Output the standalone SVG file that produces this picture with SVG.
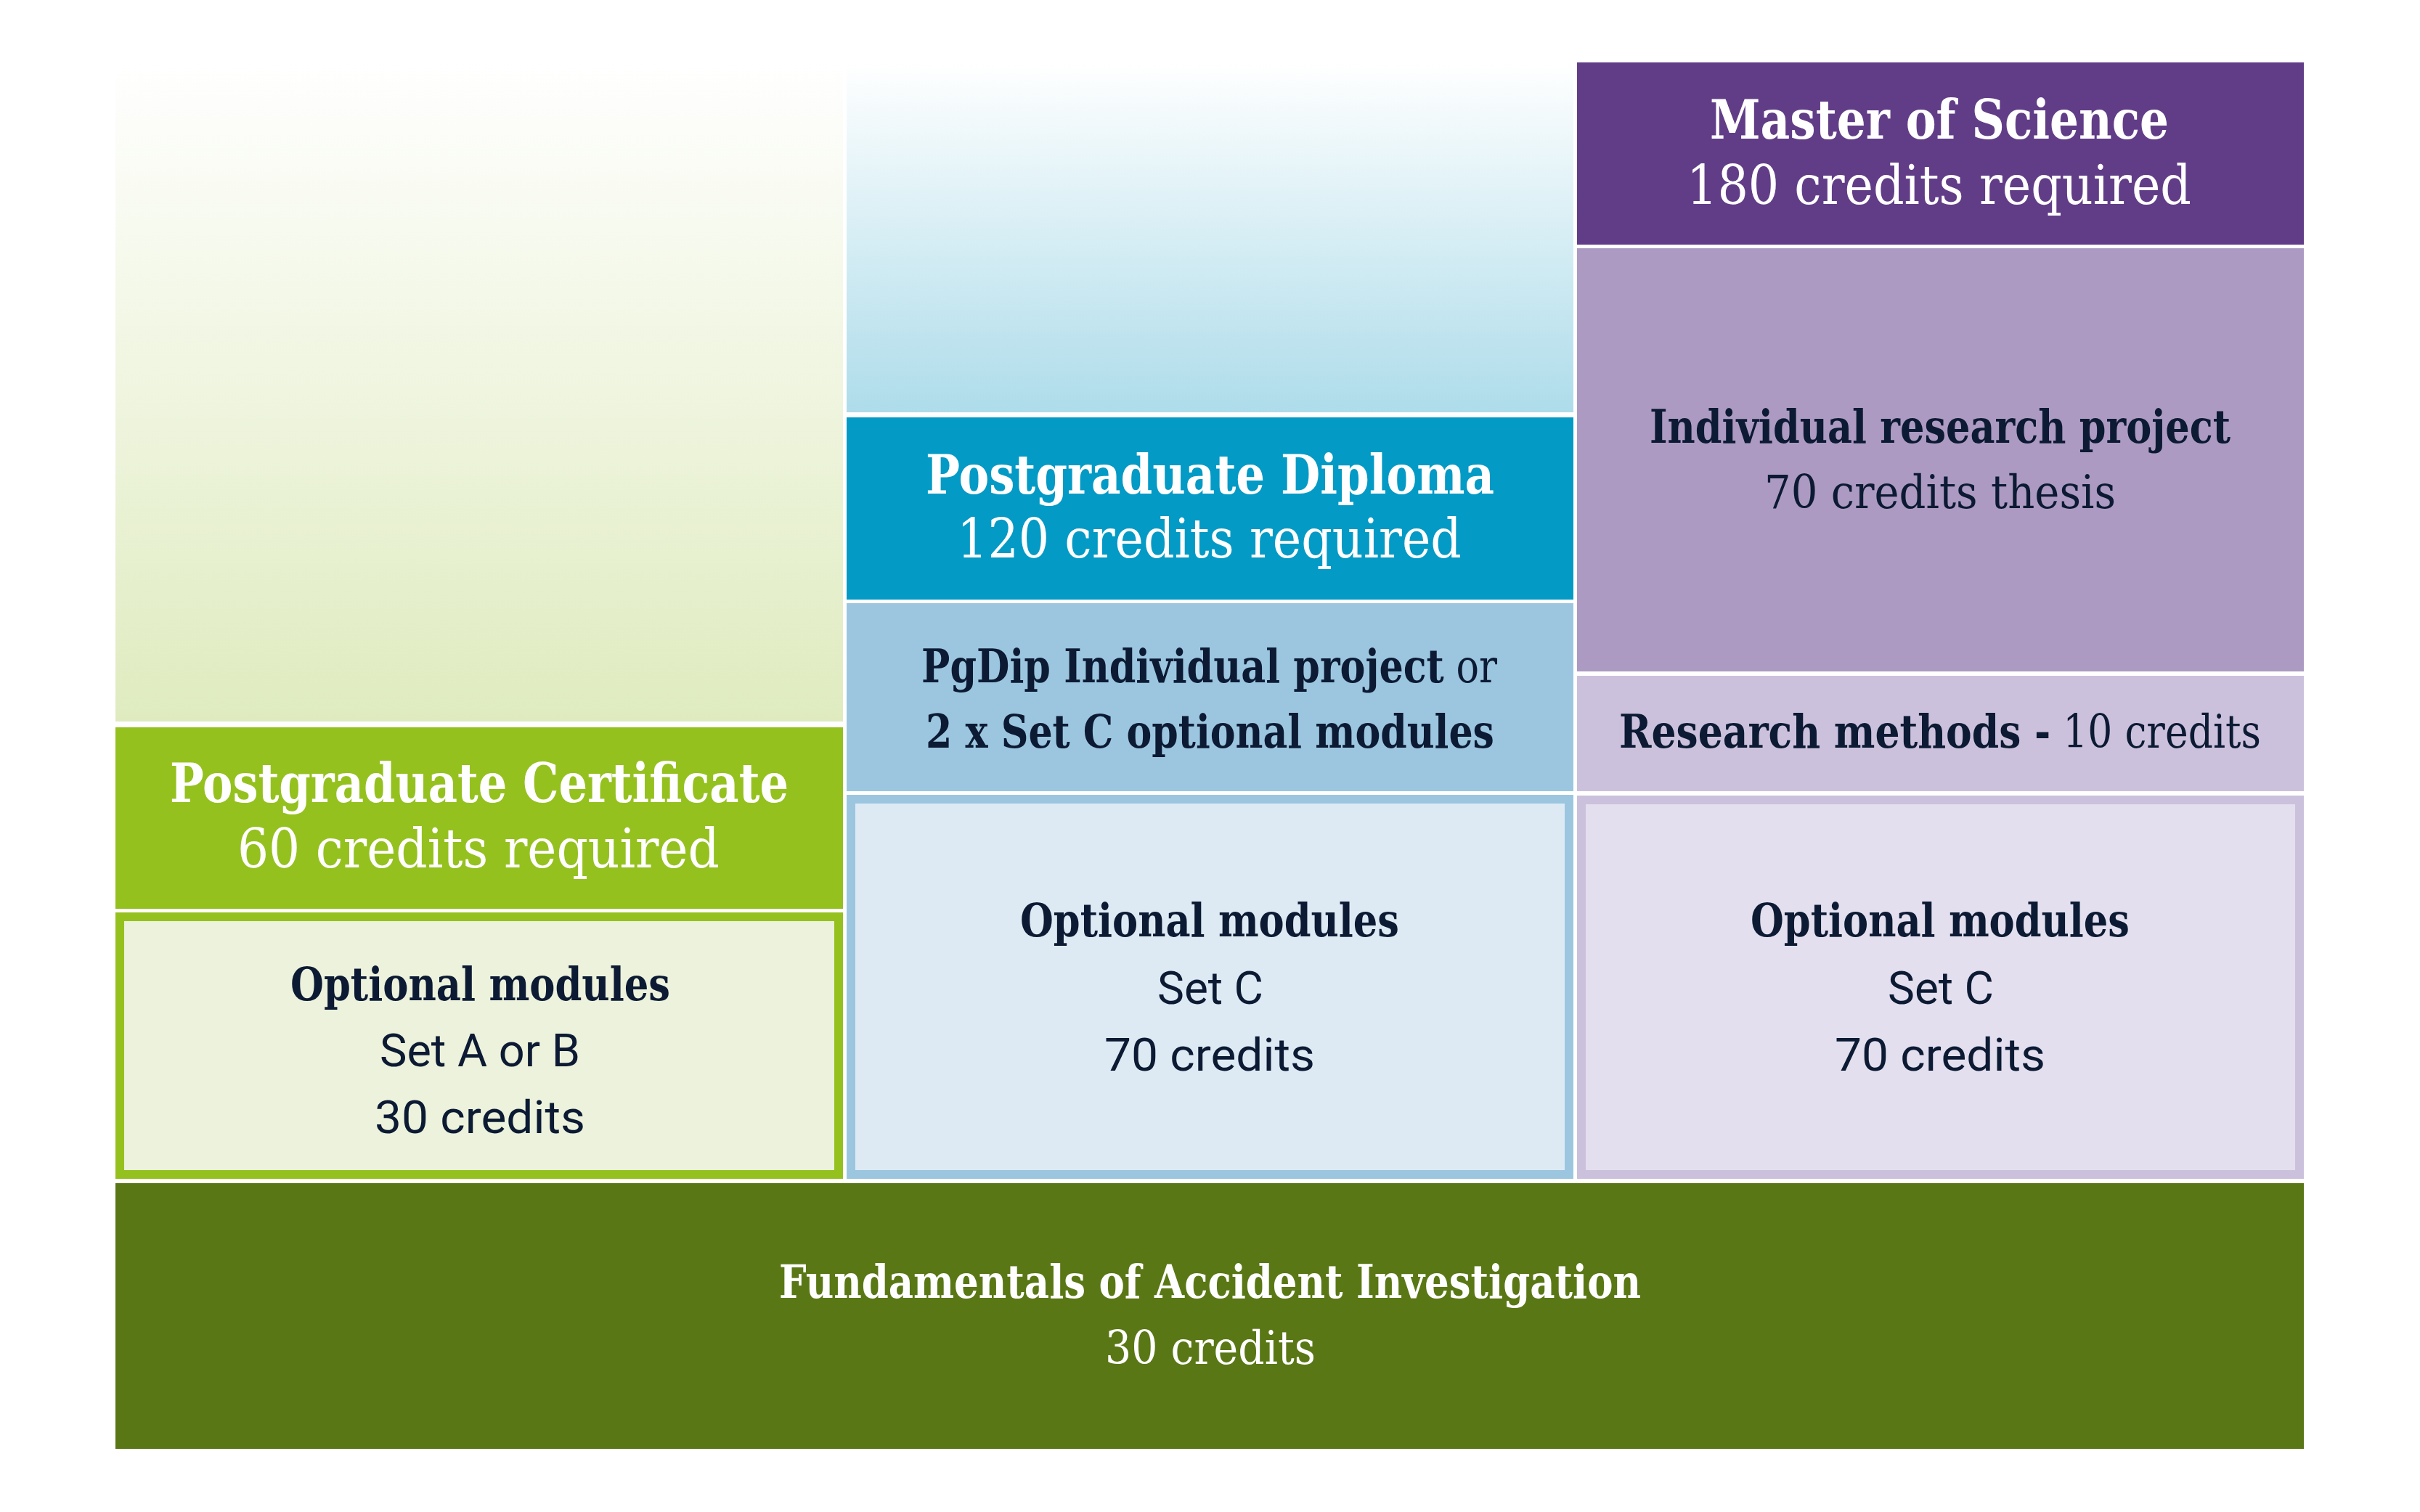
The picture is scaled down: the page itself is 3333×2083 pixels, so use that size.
<svg xmlns="http://www.w3.org/2000/svg" width="3333" height="2083" viewBox="0 0 3333 2083">
<defs>
<linearGradient id="gGreen" x1="0" y1="0" x2="0" y2="1">
<stop offset="0" stop-color="#ffffff"/>
<stop offset="1" stop-color="#dfebbf"/>
</linearGradient>
<linearGradient id="gBlue" x1="0" y1="0" x2="0" y2="1">
<stop offset="0" stop-color="#ffffff"/>
<stop offset="1" stop-color="#aedcea"/>
</linearGradient>
</defs>
<style>
.slab{font-family:"DejaVu Serif","Liberation Serif",serif;}
.sans{font-family:Roboto,"Liberation Sans",sans-serif;font-weight:400;}
.b{font-weight:700;}
.l{font-weight:400;}
.w{fill:#ffffff;}
.d{fill:#0c1a33;}
.hd{font-size:74px;}
.bd{font-size:63px;}
</style>
<rect x="0" y="0" width="3333" height="2083" fill="#ffffff"/>

<g id="pgcert-gradient">
<rect x="159" y="86" width="1002" height="908" fill="url(#gGreen)"/>
</g>
<g id="pgdip-gradient">
<rect x="1166" y="86" width="1001" height="482" fill="url(#gBlue)"/>
</g>

<g id="msc-header">
<rect x="2172" y="86" width="1001" height="251" fill="#623d87"/>
<text class="slab b w hd" x="2355" y="191" textLength="632" lengthAdjust="spacingAndGlyphs">Master of Science</text>
<text class="slab l w hd" x="2323" y="281" textLength="695" lengthAdjust="spacingAndGlyphs">180 credits required</text>
</g>

<g id="msc-project">
<rect x="2172" y="342" width="1001" height="583" fill="#ac9ac2"/>
<text class="slab b d bd" x="2272" y="610" textLength="800" lengthAdjust="spacingAndGlyphs">Individual research project</text>
<text class="slab l d bd" x="2430" y="700" textLength="484" lengthAdjust="spacingAndGlyphs">70 credits thesis</text>
</g>

<g id="msc-methods">
<rect x="2172" y="931" width="1001" height="159" fill="#ccc1dc"/>
<text class="slab d bd" x="2230" y="1030" textLength="884" lengthAdjust="spacingAndGlyphs"><tspan class="b">Research methods -</tspan><tspan class="l"> 10 credits</tspan></text>
</g>

<g id="msc-optional">
<rect x="2178" y="1102" width="989" height="516" fill="#e3dfee" stroke="#ccc1dc" stroke-width="12"/>
<text class="slab b d bd" x="2411" y="1290" textLength="522" lengthAdjust="spacingAndGlyphs">Optional modules</text>
<text class="sans d bd" x="2600" y="1383" textLength="146" lengthAdjust="spacingAndGlyphs">Set C</text>
<text class="sans d bd" x="2527" y="1475" textLength="290" lengthAdjust="spacingAndGlyphs">70 credits</text>
</g>

<g id="pgdip-header">
<rect x="1166" y="575" width="1001" height="251" fill="#039ac5"/>
<text class="slab b w hd" x="1275" y="680" textLength="783" lengthAdjust="spacingAndGlyphs">Postgraduate Diploma</text>
<text class="slab l w hd" x="1318" y="768" textLength="695" lengthAdjust="spacingAndGlyphs">120 credits required</text>
</g>

<g id="pgdip-project">
<rect x="1166" y="831" width="1001" height="259" fill="#9cc6df"/>
<text class="slab d bd" x="1269" y="940" textLength="793" lengthAdjust="spacingAndGlyphs"><tspan class="b">PgDip Individual project</tspan><tspan class="l"> or</tspan></text>
<text class="slab b d bd" x="1275" y="1030" textLength="783" lengthAdjust="spacingAndGlyphs">2 x Set C optional modules</text>
</g>

<g id="pgdip-optional">
<rect x="1172" y="1101" width="989" height="517" fill="#ddeaf4" stroke="#9cc6df" stroke-width="12"/>
<text class="slab b d bd" x="1405" y="1290" textLength="522" lengthAdjust="spacingAndGlyphs">Optional modules</text>
<text class="sans d bd" x="1594" y="1383" textLength="146" lengthAdjust="spacingAndGlyphs">Set C</text>
<text class="sans d bd" x="1521" y="1475" textLength="290" lengthAdjust="spacingAndGlyphs">70 credits</text>
</g>

<g id="pgcert-header">
<rect x="159" y="1002" width="1002" height="250" fill="#95c11f"/>
<text class="slab b w hd" x="234" y="1105" textLength="852" lengthAdjust="spacingAndGlyphs">Postgraduate Certificate</text>
<text class="slab l w hd" x="327" y="1195" textLength="664" lengthAdjust="spacingAndGlyphs">60 credits required</text>
</g>

<g id="pgcert-optional">
<rect x="165" y="1263" width="990" height="355" fill="#ecf2dc" stroke="#95c11f" stroke-width="12"/>
<text class="slab b d bd" x="400" y="1378" textLength="523" lengthAdjust="spacingAndGlyphs">Optional modules</text>
<text class="sans d bd" x="523" y="1469" textLength="276" lengthAdjust="spacingAndGlyphs">Set A or B</text>
<text class="sans d bd" x="516" y="1561" textLength="290" lengthAdjust="spacingAndGlyphs">30 credits</text>
</g>

<g id="fundamentals">
<rect x="159" y="1630" width="3014" height="366" fill="#5a7715"/>
<text class="slab b w bd" x="1073" y="1788" textLength="1187" lengthAdjust="spacingAndGlyphs">Fundamentals of Accident Investigation</text>
<text class="slab l w bd" x="1522" y="1879" textLength="290" lengthAdjust="spacingAndGlyphs">30 credits</text>
</g>

<g id="connectors"></g>
</svg>
